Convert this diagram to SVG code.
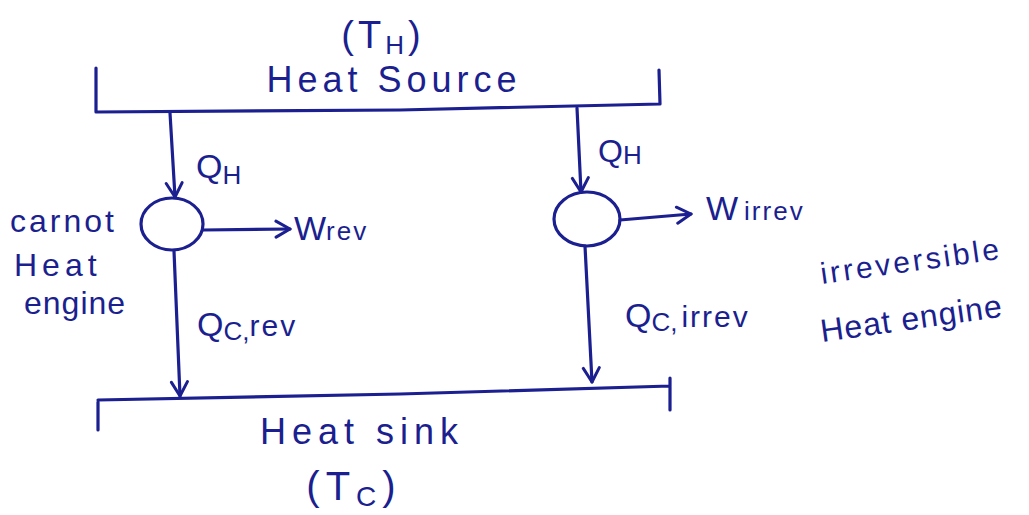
<svg xmlns="http://www.w3.org/2000/svg" width="1029" height="515" viewBox="0 0 1029 515">
<style>
.ink{fill:none;stroke:#1b1f8f;stroke-width:3.2;stroke-linecap:round;stroke-linejoin:round}
.t{fill:#1b1f8f;font-family:"Liberation Sans","DejaVu Sans",sans-serif}
</style>
<defs>
<marker id="ah" viewBox="0 0 20 20" refX="18" refY="10" markerWidth="20" markerHeight="20" markerUnits="userSpaceOnUse" orient="auto">
<path d="M4 2 L18 10 L4 18" fill="none" stroke="#1b1f8f" stroke-width="3" stroke-linecap="round" stroke-linejoin="round"/>
</marker>
</defs>
<rect width="1029" height="515" fill="#ffffff"/>
<g id="source">
<path class="ink" d="M96 68 L96 112 L400 110 L660 104 M659 70 L660 104"/>
<text class="t" x="383" y="48" font-size="38" text-anchor="middle" letter-spacing="4">(T<tspan font-size="26" dy="6">H</tspan><tspan dy="-6">)</tspan></text>
<text class="t" x="394" y="92" font-size="36" text-anchor="middle" letter-spacing="5">Heat Source</text>
</g>
<g id="sink">
<path class="ink" d="M98 402 L98 430 M98 400 L400 394 L670 386 M670 378 L670 410"/>
<text class="t" x="362" y="444" font-size="36" text-anchor="middle" letter-spacing="6">Heat sink</text>
<text class="t" x="354" y="500" font-size="40" text-anchor="middle" letter-spacing="6">(T<tspan font-size="28" dy="6">C</tspan><tspan dy="-6">)</tspan></text>
</g>
<g id="carnot">
<ellipse class="ink" cx="172" cy="224" rx="31" ry="26"/>
<text class="t" x="10" y="232" font-size="32" letter-spacing="3">carnot</text>
<text class="t" x="14" y="276" font-size="32" letter-spacing="5">Heat</text>
<text class="t" x="24" y="314" font-size="32" letter-spacing="1">engine</text>
</g>
<g id="irrev">
<ellipse class="ink" cx="587" cy="219" rx="33" ry="27"/>
<text class="t" x="822" y="284" font-size="30" letter-spacing="3" transform="rotate(-8 822 284)">irreversible</text>
<text class="t" x="822" y="342" font-size="32" letter-spacing="1" transform="rotate(-8 822 342)">Heat engine</text>
</g>
<g id="connectors">
<path class="ink" d="M170 113 L175 197" marker-end="url(#ah)"/>
<path class="ink" d="M203 230 L290 229" marker-end="url(#ah)"/>
<path class="ink" d="M174 251 L180 396" marker-end="url(#ah)"/>
<path class="ink" d="M577 108 L581 192" marker-end="url(#ah)"/>
<path class="ink" d="M620 220 L691 214" marker-end="url(#ah)"/>
<path class="ink" d="M585 246 L592 382" marker-end="url(#ah)"/>
<text class="t" x="196" y="178" font-size="34">Q<tspan font-size="26" dy="6">H</tspan></text>
<text class="t" x="294" y="240" font-size="34">W<tspan font-size="26" letter-spacing="2">rev</tspan></text>
<text class="t" x="197" y="336" font-size="34">Q<tspan font-size="26" dy="4">C,</tspan><tspan dy="-4" font-size="30" letter-spacing="2">rev</tspan></text>
<text class="t" x="598" y="162" font-size="32">Q<tspan font-size="26" dy="2">H</tspan></text>
<text class="t" x="706" y="220" font-size="34">W<tspan font-size="26" dx="6" letter-spacing="2">irrev</tspan></text>
<text class="t" x="625" y="327" font-size="34">Q<tspan font-size="26" dy="4">C,</tspan><tspan dy="-4" font-size="30" dx="4" letter-spacing="2">irrev</tspan></text>
</g>
</svg>
